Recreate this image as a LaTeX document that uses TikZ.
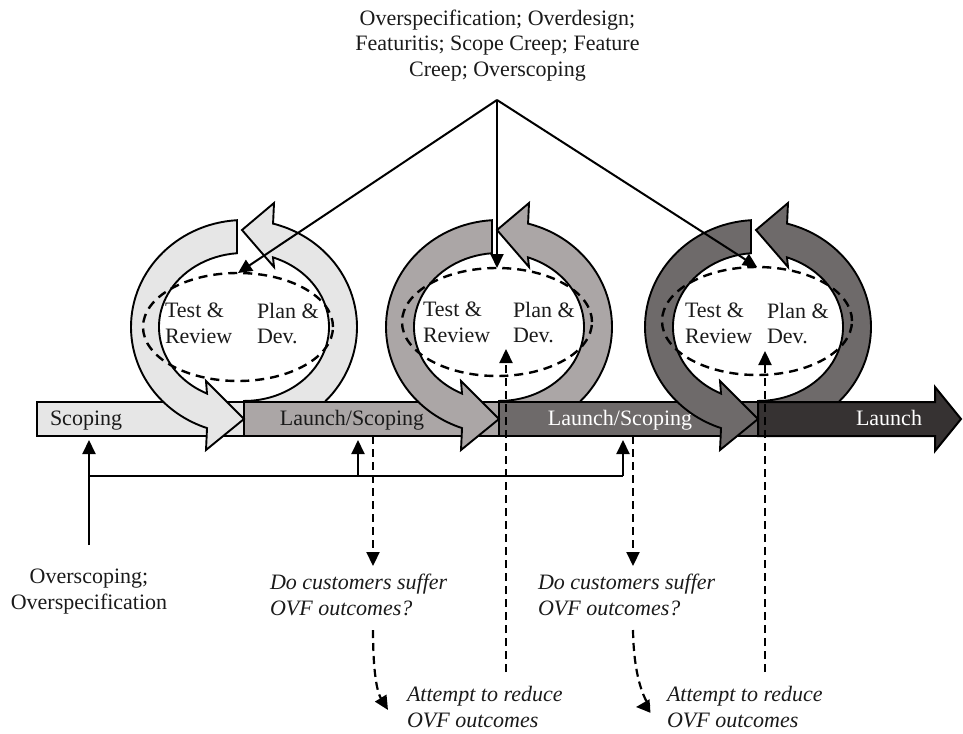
\documentclass[tikz,border=0pt]{standalone}
\usepackage{fontspec}
\setmainfont{Liberation Serif}
\usetikzlibrary{arrows.meta,calc,shapes.geometric}
\definecolor{cA}{HTML}{E6E6E6}
\definecolor{cB}{HTML}{ABA6A6}
\definecolor{cC}{HTML}{6E6A6A}
\definecolor{cD}{HTML}{363232}
\definecolor{ink}{HTML}{1A1A1A}
\begin{document}
\begin{tikzpicture}[x=1pt,y=1pt,
  every node/.style={inner sep=0pt, outer sep=0pt, text=ink},
  txt/.style={font=\fontsize{22}{25.5}\selectfont},
  itx/.style={font=\fontsize{22}{26}\selectfont\itshape, align=left, anchor=north west},
  band/.style={draw=black, line width=1.9pt, line join=miter},
  seg/.style={draw=black, line width=2pt, anchor=south west, minimum height=34pt},
  arr/.style={draw=black, line width=2pt, -{Triangle[length=14pt,width=13pt]}},
  darr/.style={arr, line width=2.2pt, dash pattern=on 8pt off 5pt},
  dell/.style={ellipse, draw=black, dash pattern=on 9pt off 6pt, line width=2.4pt, minimum width=190pt, minimum height=108pt},
]
\useasboundingbox (0,0) rectangle (963,-733);

% right bands (behind)
\foreach \cx/\col in {244/cA,499/cB,758/cC}{
  \coordinate (C) at (\cx,-327);
  \draw[band, fill=\col] ($(C)+(0,-75)$) -- ($(C)+(80.6,-75)$)
     arc[start angle=-44.5, end angle=75.1, x radius=113pt, y radius=107pt]
     -- ($(C)+(30,124)$) -- ($(C)+(-2,97)$) -- ($(C)+(30,60)$) -- ($(C)+(29,69.6)$)
     arc[start angle=70.05, end angle=-90, x radius=85pt, y radius=74pt] -- cycle;
}

% bar
\node[seg, fill=cA, minimum width=207pt] (s1) at (37,-436) {};
\node[seg, fill=cB, minimum width=255pt] (s2) at (244,-436) {};
\draw[band, line width=2pt, fill=cD] (758,-402) -- (935,-402) -- (935,-387) -- (961,-419) -- (935,-451) -- (935,-436) -- (758,-436) -- cycle;
\node[seg, fill=cC, minimum width=259pt] (s3) at (499,-436) {};
\node[txt, anchor=base west] (l1) at (50,-425) {Scoping};
\node[txt, anchor=base] (l2) at (352,-425) {Launch/Scoping};
\node[txt, anchor=base, text=white] (l3) at (620,-425) {Launch/Scoping};
\node[txt, anchor=base, text=white] (l4) at (889,-425) {Launch};

% left bands (in front)
\foreach \cx/\col in {244/cA,499/cB,758/cC}{
  \coordinate (C) at (\cx,-327);
  \draw[band, fill=\col] ($(C)+(-7,106.8)$)
     arc[start angle=93.55, end angle=250.9, x radius=113pt, y radius=107pt]
     -- ($(C)+(-38,-123)$) -- ($(C)+(0,-92)$) -- ($(C)+(-38,-54)$) -- ($(C)+(-37,-66.6)$)
     arc[start angle=244.2, end angle=94.72, x radius=85pt, y radius=74pt] -- cycle;
}

% dashed ellipses and texts
\node[dell] (e1) at (238,-327) {};
\node[dell] (e2) at (497,-322) {};
\node[dell] (e3) at (757,-321) {};
\node[txt, align=left, anchor=north west] (t1) at (165,-303) {Test \&\\Review};
\node[txt, align=left, anchor=north west] (p1) at (257,-303) {Plan \&\\Dev.};
\node[txt, align=left, anchor=north west] (t2) at (423,-302) {Test \&\\Review};
\node[txt, align=left, anchor=north west] (p2) at (513,-302) {Plan \&\\Dev.};
\node[txt, align=left, anchor=north west] (t3) at (685,-303) {Test \&\\Review};
\node[txt, align=left, anchor=north west] (p3) at (767,-303) {Plan \&\\Dev.};

% top
\node[txt, align=center, anchor=north] (top) at (497.5,-10) {Overspecification; Overdesign;\\Featuritis; Scope Creep; Feature\\Creep; Overscoping};
\coordinate (apex) at (497,-100);
\draw[arr] (apex) -- (e1.north);
\draw[arr] (apex) -- (e2.north);
\draw[arr] (apex) -- (e3.north);

% bottom left
\node[txt, align=center, anchor=north] (os) at (89,-569) {Overscoping;\\Overspecification};
\coordinate (h0) at (89,-476);
\coordinate (h1) at (358,-476);
\coordinate (h2) at (623,-476);
\draw[arr, shorten >=4pt] ([yshift=24pt]os.north) -- (os.north |- s1.south);
\draw[line width=2pt] (h0) -- (h2);
\draw[arr, shorten >=4pt] (h1) -- (h1 |- s2.south);
\draw[arr, shorten >=4pt] (h2) -- (h2 |- s3.south);

% questions
\node[itx] (q1) at (270,-574) {Do customers suffer\\OVF outcomes?};
\node[itx] (q2) at (538,-574) {Do customers suffer\\OVF outcomes?};
\coordinate (d1) at (373,-566);
\coordinate (d2) at (633,-566);
\draw[darr] (d1 |- s2.south) -- (d1);
\draw[darr] (d2 |- s3.south) -- (d2);

% attempts
\node[itx] (a1) at (407,-686) {Attempt to reduce\\OVF outcomes};
\node[itx] (a2) at (667,-686) {Attempt to reduce\\OVF outcomes};
\coordinate (c1s) at (373,-630);
\coordinate (c1e) at (388,-710);
\coordinate (c2s) at (633,-630);
\coordinate (c2e) at (636,-707);
\draw[darr] (c1s) .. controls (373,-672) and (377,-692) .. (c1e);
\draw[darr] (c2s) .. controls (634,-690) and (650,-706) .. (c2e);

% upward dashed
\coordinate (u1) at (506,-672);
\coordinate (u1t) at (506,-349);
\coordinate (u2) at (765,-672);
\coordinate (u2t) at (765,-351);
\draw[darr] (u1) -- (u1t);
\draw[darr] (u2) -- (u2t);
\end{tikzpicture}
\end{document}
